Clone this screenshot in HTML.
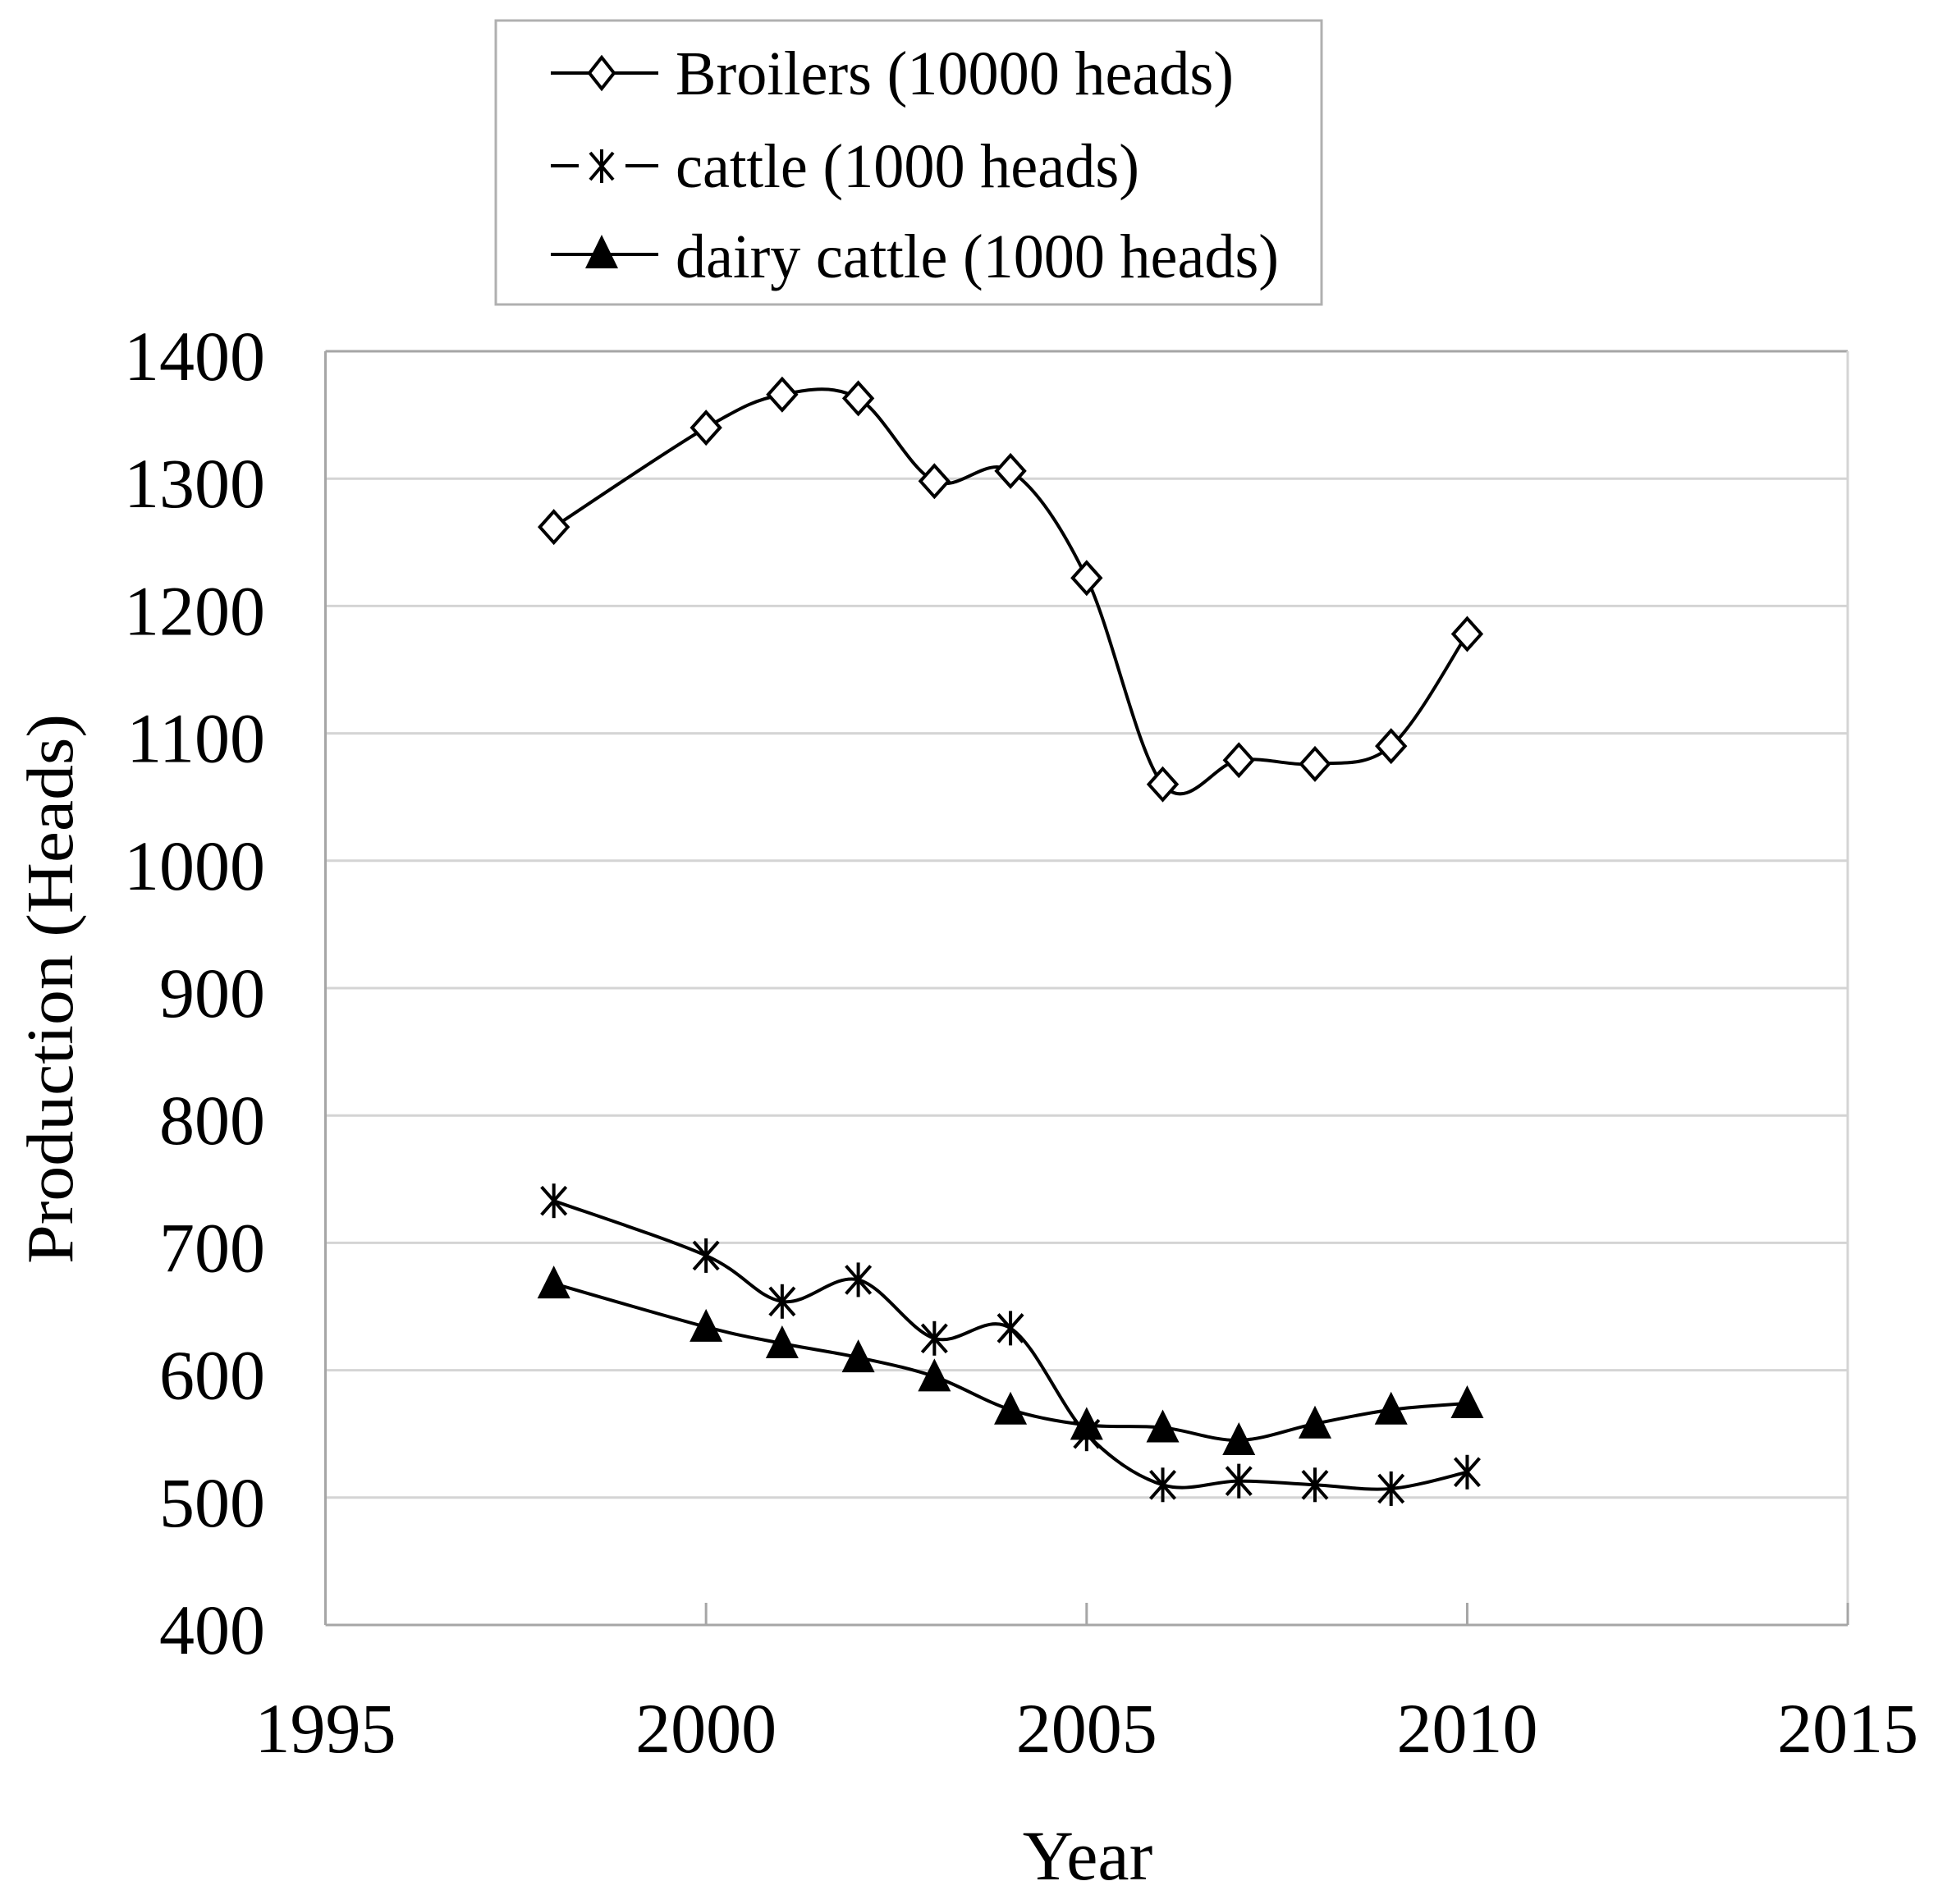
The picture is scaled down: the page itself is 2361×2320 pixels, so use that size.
<!DOCTYPE html>
<html><head><meta charset="utf-8"><style>
html,body{margin:0;padding:0;background:#fff;}
svg{display:block;}
text{font-family:"Liberation Serif",serif;fill:#000;}
</style></head><body>
<svg id="s" width="2361" height="2320" viewBox="0 0 2361 2320" xmlns="http://www.w3.org/2000/svg">
<rect width="2361" height="2320" fill="#fff"/>
<g id="grid"></g>
<rect x="604" y="25" width="1006" height="346" fill="#fff" stroke="#b0b0b0" stroke-width="3"/>
<line x1="671" y1="89" x2="802" y2="89" stroke="#000" stroke-width="4"/>
<polygon points="733,70 748,89 733,108 718,89" fill="#fff" stroke="#000" stroke-width="4"/>
<line x1="671" y1="202" x2="705" y2="202" stroke="#000" stroke-width="4"/>
<line x1="762" y1="202" x2="802" y2="202" stroke="#000" stroke-width="4"/>
<g stroke="#000" stroke-width="4"><line x1="733" y1="182" x2="733" y2="223"/><line x1="719" y1="186" x2="747" y2="219"/><line x1="747" y1="186" x2="719" y2="219"/></g>
<line x1="671" y1="310" x2="802" y2="310" stroke="#000" stroke-width="4"/>
<polygon points="733,286 753,327 713,327" fill="#000"/>
<text x="823" y="115" font-size="76" textLength="680" lengthAdjust="spacingAndGlyphs">Broilers (10000 heads)</text>
<text x="823" y="228" font-size="76" textLength="565" lengthAdjust="spacingAndGlyphs">cattle (1000 heads)</text>
<text x="823" y="338" font-size="76" textLength="735" lengthAdjust="spacingAndGlyphs">dairy cattle (1000 heads)</text>
<g id="data"></g>
<text x="1325" y="2290" font-size="86" text-anchor="middle">Year</text>
<text transform="translate(88,1205) rotate(-90)" font-size="80" text-anchor="middle" textLength="670" lengthAdjust="spacingAndGlyphs">Production (Heads)</text>
</svg>
<script>
var NS="http://www.w3.org/2000/svg";
function X(y){return 396.5+(y-1995)*92.73;}
function Y(v){return 1980-(v-400)*1.552;}
function el(p,t,a,txt){var e=document.createElementNS(NS,t);for(var k in a)e.setAttribute(k,a[k]);if(txt!==undefined)e.textContent=txt;p.appendChild(e);return e;}
var g=document.getElementById('grid');
for(var v=500;v<=1300;v+=100){el(g,'line',{x1:396.5,x2:2251,y1:Y(v),y2:Y(v),stroke:'#d4d4d4','stroke-width':3});}
el(g,'line',{x1:396.5,x2:2251,y1:428,y2:428,stroke:'#a6a6a6','stroke-width':3});
el(g,'line',{x1:396.5,x2:396.5,y1:428,y2:1980,stroke:'#a6a6a6','stroke-width':3});
el(g,'line',{x1:2251,x2:2251,y1:428,y2:1980,stroke:'#d4d4d4','stroke-width':3});
el(g,'line',{x1:396.5,x2:2251,y1:1980,y2:1980,stroke:'#a6a6a6','stroke-width':3});
for(var yr=1995;yr<=2015;yr+=5){el(g,'line',{x1:X(yr),x2:X(yr),y1:1953,y2:1980,stroke:'#a6a6a6','stroke-width':3});
 el(g,'text',{x:X(yr),y:2135,'font-size':86,'text-anchor':'middle'},String(yr));}
for(var v=400;v<=1400;v+=100){el(g,'text',{x:323,y:Y(v)+35,'font-size':86,'text-anchor':'end'},String(v));}
var yrs=[1998,2000,2001,2002,2003,2004,2005,2006,2007,2008,2009,2010];
var br=[1262,1340,1366,1363,1298,1306,1222,1060,1079,1076,1090,1178];
var ca=[733,690,654,671,625,633,550,510,513,510,507,520];
var da=[668,634,621,610,595,569,557,555,545,558,569,574];
function path(vals){var P=yrs.map(function(y,i){return [X(y),Y(vals[i])];});
 var d='M'+P[0][0]+','+P[0][1];
 for(var i=0;i<P.length-1;i++){var p0=P[i>0?i-1:i],p1=P[i],p2=P[i+1],p3=P[i+2<P.length?i+2:i+1];
  var c1=[p1[0]+(p2[0]-p0[0])/6,p1[1]+(p2[1]-p0[1])/6],c2=[p2[0]-(p3[0]-p1[0])/6,p2[1]-(p3[1]-p1[1])/6];
  d+=' C'+c1+' '+c2+' '+p2;}
 return d;}
var D=document.getElementById('data');
[br,ca,da].forEach(function(s){el(D,'path',{d:path(s),fill:'none',stroke:'#000','stroke-width':4});});
yrs.forEach(function(y,i){var x=X(y),yy=Y(br[i]);
 el(D,'polygon',{points:[x,yy-19,x+17,yy,x,yy+19,x-17,yy].join(','),fill:'#fff',stroke:'#000','stroke-width':4});
 yy=Y(ca[i]);
 el(D,'line',{x1:x,x2:x,y1:yy-21,y2:yy+21,stroke:'#000','stroke-width':4});
 el(D,'line',{x1:x-15,x2:x+15,y1:yy-17,y2:yy+17,stroke:'#000','stroke-width':4});
 el(D,'line',{x1:x+15,x2:x-15,y1:yy-17,y2:yy+17,stroke:'#000','stroke-width':4});
 yy=Y(da[i]);
 el(D,'polygon',{points:[x,yy-22,x+20,yy+18,x-20,yy+18].join(','),fill:'#000'});
});
</script>
</body></html>
